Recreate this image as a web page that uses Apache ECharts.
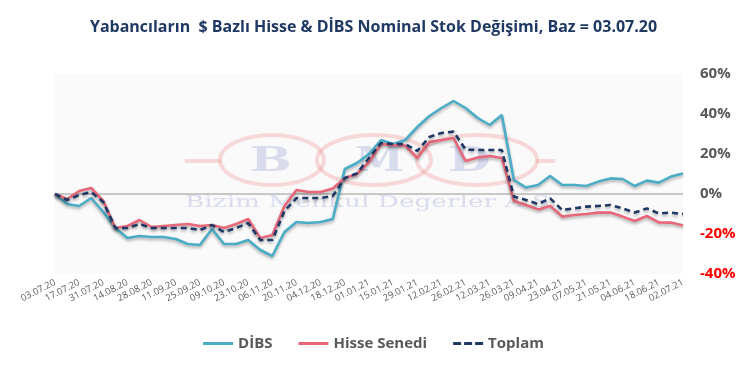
<!DOCTYPE html>
<html><head><meta charset="utf-8">
<script src="https://cdn.jsdelivr.net/npm/echarts@6/dist/echarts.min.js"></script>
<style>html,body{margin:0;padding:0;background:#fff}#c{width:747px;height:372px}</style>
</head><body><div id="c"></div>
<script>
const dates = ["03.07.20","10.07.20","17.07.20","24.07.20","31.07.20","07.08.20","14.08.20","21.08.20","28.08.20","04.09.20","11.09.20","18.09.20","25.09.20","02.10.20","09.10.20","16.10.20","23.10.20","30.10.20","06.11.20","13.11.20","20.11.20","27.11.20","04.12.20","11.12.20","18.12.20","25.12.20","01.01.21","08.01.21","15.01.21","22.01.21","29.01.21","05.02.21","12.02.21","19.02.21","26.02.21","05.03.21","12.03.21","19.03.21","26.03.21","02.04.21","09.04.21","16.04.21","23.04.21","30.04.21","07.05.21","14.05.21","21.05.21","28.05.21","04.06.21","11.06.21","18.06.21","25.06.21","02.07.21"];
const dibs = [0,-5,-6,-2,-9,-17,-22,-21,-21.5,-21.5,-22.5,-25,-25.5,-17.5,-25,-25,-23,-28,-31,-19,-14,-14.5,-14,-12.5,12.5,15.5,20,27,25,27,33.5,39,43,46.5,43,38,34.5,39.5,7,3.2,4.5,9,4.5,4.5,4,6.2,7.8,7.5,4,6.7,5.7,8.7,10.3];
const hisse = [0,-2.5,1.5,3,-3.5,-17,-16,-13,-16.5,-16,-15.5,-15,-16,-15.5,-17,-15,-12.5,-22,-20.5,-6,2,1,1,2.8,8,10,16,25,24.5,24.2,18,26,27,28,16.5,18.3,19,18,-3.5,-5.5,-7.7,-6,-11.3,-10.5,-10,-9.3,-9.3,-11.3,-13.5,-11,-14.2,-14.3,-15.7];
const toplam = [0,-3,-0.5,1,-4,-17,-17,-15,-17,-17,-17,-17,-18,-15.5,-19,-17,-14.5,-23,-23,-8.5,-2,-2,-2,-1,8,10.3,18,25.5,25,25,21.5,28.5,30.5,31.2,22.2,22,22,22,-1.3,-3,-5,-2.2,-8,-7.2,-6.3,-6,-5.5,-7.2,-9.3,-7.2,-9.7,-9.3,-10];
const yTicks = [-40,-20,0,20,40,60];
const titleText = "Yabancıların  $ Bazlı Hisse & DİBS Nominal Stok Değişimi, Baz = 03.07.20";
const names = ["DİBS","Hisse Senedi","Toplam"];

const chart = echarts.init(document.getElementById('c'));
const shadow = {shadowColor:'rgba(0,0,0,0.3)', shadowBlur:3, shadowOffsetY:2};
const wmRing = 'rgba(240,140,140,0.3)';
const wmText = 'rgba(150,160,210,0.32)';
chart.setOption({
  animation:false,
  title:{text:titleText, left:'center', top:14, textStyle:{fontFamily:'Open Sans', fontWeight:'bold', fontSize:16, color:'#1f3864'}},
  grid:{left:55, right:64, top:74, bottom:98, show:true, backgroundColor:'#fafafa', borderWidth:0},
  legend:{bottom:16, left:'center', itemWidth:30, itemHeight:3, itemGap:26,
    textStyle:{fontFamily:'Open Sans', fontWeight:'bold', fontSize:15, color:'#595959'},
    data:[
      {name:names[0], icon:'path://M0,0h30v3h-30z'},
      {name:names[1], icon:'path://M0,0h30v3h-30z'},
      {name:names[2], icon:'path://M0,0h8v3h-8zM11,0h8v3h-8zM22,0h8v3h-8z'}
    ]},
  graphic:[
    {type:'ellipse', z:1, shape:{cx:272, cy:160, rx:52, ry:25}, style:{fill:null, stroke:wmRing, lineWidth:4}},
    {type:'ellipse', z:1, shape:{cx:374, cy:160, rx:57, ry:25}, style:{fill:null, stroke:wmRing, lineWidth:4}},
    {type:'ellipse', z:1, shape:{cx:477, cy:160, rx:60, ry:25}, style:{fill:null, stroke:wmRing, lineWidth:4}},
    {type:'line', z:1, shape:{x1:185, y1:161, x2:221, y2:161}, style:{stroke:wmRing, lineWidth:4}},
    {type:'line', z:1, shape:{x1:536, y1:161, x2:555, y2:161}, style:{stroke:wmRing, lineWidth:4}},
    {type:'text', z:1, x:250, y:162, scaleX:1.45, style:{text:'B', font:'bold 34px "DejaVu Serif"', fill:wmText, verticalAlign:'middle'}},
    {type:'text', z:1, x:355, y:162, scaleX:1.3, style:{text:'M', font:'bold 34px "DejaVu Serif"', fill:wmText, verticalAlign:'middle'}},
    {type:'text', z:1, x:448, y:162, scaleX:1.45, style:{text:'D', font:'bold 34px "DejaVu Serif"', fill:wmText, verticalAlign:'middle'}},
    {type:'text', z:1, x:185, y:203, scaleX:1.55, style:{text:'Bizim Menkul Degerler A.Ş.', font:'17px "DejaVu Serif"', fill:wmText, verticalAlign:'middle'}}
  ],
  xAxis:{type:'category', data:dates, boundaryGap:false,
    axisLine:{show:false}, axisTick:{show:false},
    axisLabel:{interval:1, rotate:27, fontSize:9.5, color:'#595959', fontFamily:'Open Sans', margin:8}},
  yAxis:{type:'value', position:'right', min:-40, max:60, interval:20,
    splitLine:{show:false}, axisLine:{show:false}, axisTick:{show:false},
    axisLabel:{formatter:v=>v+'%', margin:17, fontFamily:'Open Sans', fontWeight:'bold', fontSize:15,
      color:v=>(v<0?'#ff0000':'#595959')}},
  series:[
    {name:names[0], type:'line', data:dibs, symbol:'none', lineStyle:Object.assign({color:'#4bacc6', width:2.6}, shadow), itemStyle:{color:'#4bacc6'}, z:3,
      markLine:{silent:true, symbol:'none', label:{show:false}, lineStyle:{color:'#c8c8c8', width:2, type:'solid'}, data:[{yAxis:0}], z:1}},
    {name:names[1], type:'line', data:hisse, symbol:'none', lineStyle:Object.assign({color:'#e8677a', width:2.6}, shadow), itemStyle:{color:'#e8677a'}, z:4},
    {name:names[2], type:'line', data:toplam, symbol:'none', lineStyle:Object.assign({color:'#1f3864', width:2.6, type:[6,4]}, shadow), itemStyle:{color:'#1f3864'}, z:5}
  ]
});
</script></body></html>
